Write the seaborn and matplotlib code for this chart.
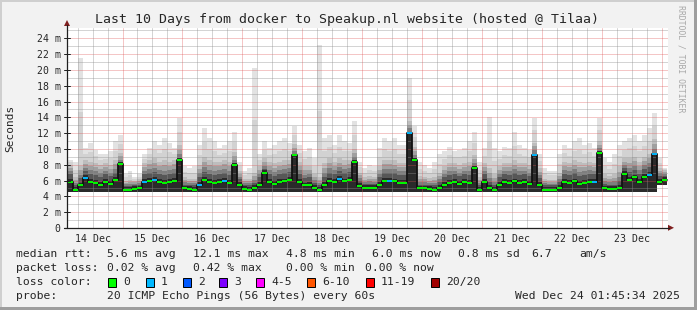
import numpy as np
import pandas as pd
import matplotlib
matplotlib.use("Agg")
import matplotlib.pyplot as plt
import matplotlib.dates as mdates
from matplotlib.lines import Line2D
from matplotlib.patches import Rectangle, Polygon
import seaborn as sns

# ---------------- data (ms), one value per 2-hour bin starting 14 Dec 02:00 ----------------
median_ms = [
    5.8, 4.85, 5.4, 6.3, 5.8, 5.7, 5.5, 5.8, 5.6, 6.1,
    8.1, 4.8, 4.8, 4.9, 5.0, 5.8, 6.0, 6.1, 5.8, 5.7,
    5.8, 6.0, 8.6, 5.0, 4.9, 4.85, 5.5, 6.1, 5.8, 5.7,
    5.8, 6.0, 5.7, 8.0, 5.5, 4.9, 4.85, 5.1, 5.5, 7.0,
    5.8, 5.6, 5.8, 5.9, 6.1, 9.2, 5.8, 5.4, 5.5, 5.1,
    4.85, 5.5, 6.0, 5.8, 6.2, 5.9, 6.1, 8.4, 5.3, 5.1,
    5.1, 5.1, 5.5, 6.0, 6.0, 5.9, 5.7, 5.7, 12.0, 8.6,
    5.0, 5.0, 4.9, 4.85, 5.1, 5.5, 5.7, 5.8, 5.6, 5.8,
    5.7, 7.6, 4.85, 5.8, 5.1, 4.85, 5.5, 5.8, 5.7, 5.9,
    5.7, 5.8, 5.6, 9.2, 5.5, 4.85, 4.85, 4.85, 5.1, 5.8,
    5.7, 5.9, 5.6, 5.7, 5.8, 5.8, 9.5, 5.0, 4.95, 4.95,
    5.1, 6.8, 6.1, 6.4, 5.8, 6.5, 6.75, 9.3, 5.8, 6.1,
]
smoke_lo = [
    4.5, 4.6, 4.55, 4.5, 4.5, 4.5, 4.5, 4.5, 4.5, 4.5,
    4.55, 4.6, 4.6, 4.6, 4.6, 4.5, 4.5, 4.5, 4.5, 4.5,
    4.5, 4.5, 4.55, 4.6, 4.6, 4.6, 4.55, 4.5, 4.5, 4.5,
    4.5, 4.5, 4.5, 4.55, 4.55, 4.6, 4.6, 4.6, 4.55, 4.5,
    4.5, 4.5, 4.5, 4.5, 4.5, 4.55, 4.5, 4.5, 4.55, 4.6,
    4.6, 4.55, 4.5, 4.5, 4.5, 4.5, 4.5, 4.55, 4.6, 4.6,
    4.6, 4.6, 4.55, 4.5, 4.5, 4.5, 4.5, 4.5, 4.55, 4.55,
    4.6, 4.6, 4.6, 4.6, 4.6, 4.55, 4.5, 4.5, 4.5, 4.5,
    4.5, 4.55, 4.6, 4.5, 4.6, 4.6, 4.55, 4.5, 4.5, 4.5,
    4.5, 4.5, 4.5, 4.55, 4.55, 4.6, 4.6, 4.6, 4.6, 4.5,
    4.5, 4.5, 4.5, 4.5, 4.5, 4.5, 4.55, 4.6, 4.6, 4.6,
    4.6, 4.5, 4.5, 4.5, 4.5, 4.5, 4.5, 4.55, 5.5, 5.5,
]
smoke_dark = [
    6.8, 5.4, 6.3, 7.2, 6.8, 6.7, 6.5, 6.8, 6.6, 7.0,
    8.3, 5.3, 5.3, 5.4, 5.5, 6.8, 7.0, 7.1, 6.8, 6.7,
    6.8, 7.0, 8.8, 5.5, 5.4, 5.4, 6.5, 7.1, 6.8, 6.7,
    6.8, 7.0, 6.7, 8.2, 6.2, 5.4, 5.4, 5.7, 6.5, 7.5,
    6.8, 6.6, 6.8, 6.9, 7.1, 9.4, 6.8, 6.3, 6.4, 5.7,
    5.4, 6.5, 7.0, 6.8, 7.2, 6.9, 7.1, 8.6, 6.0, 5.6,
    5.6, 5.6, 6.4, 7.0, 7.0, 6.9, 6.7, 6.7, 12.2, 8.8,
    5.5, 5.5, 5.4, 5.4, 5.8, 6.4, 6.7, 6.8, 6.6, 6.8,
    6.7, 7.8, 5.4, 6.8, 5.8, 5.4, 6.4, 6.8, 6.7, 6.9,
    6.7, 6.8, 6.6, 9.4, 6.3, 5.4, 5.4, 5.4, 5.8, 6.8,
    6.7, 6.9, 6.6, 6.7, 6.8, 6.8, 9.7, 5.6, 5.5, 5.5,
    5.9, 7.6, 7.1, 7.4, 6.8, 7.5, 7.7, 9.5, 6.6, 6.6,
]
smoke_mid = [
    8.0, 6.4, 7.8, 8.6, 8.4, 8.2, 8.0, 8.2, 8.0, 8.6,
    9.5, 6.0, 6.1, 6.0, 6.2, 8.2, 8.6, 8.8, 8.4, 8.6,
    8.4, 8.6, 10.5, 6.4, 6.2, 6.2, 8.0, 9.0, 8.6, 8.4,
    8.4, 8.6, 8.4, 9.6, 7.2, 6.2, 6.2, 7.0, 7.8, 8.8,
    8.4, 8.2, 8.4, 8.6, 8.6, 10.6, 8.4, 7.8, 7.8, 6.8,
    6.5, 8.2, 8.8, 8.4, 8.8, 8.6, 8.6, 10.0, 7.0, 6.4,
    6.6, 6.5, 7.8, 8.6, 8.6, 8.6, 8.2, 8.2, 13.5, 10.2,
    6.6, 6.5, 6.3, 6.5, 7.0, 7.8, 8.2, 8.2, 8.0, 8.2,
    8.4, 9.2, 6.4, 8.2, 7.6, 6.8, 7.8, 8.2, 8.2, 8.6,
    8.2, 8.2, 8.0, 10.8, 7.6, 6.2, 6.1, 6.1, 7.0, 8.4,
    8.2, 8.6, 8.4, 8.2, 8.4, 8.2, 11.0, 6.8, 6.6, 6.8,
    7.8, 8.8, 8.8, 9.0, 8.4, 9.0, 9.4, 11.2, 7.6, 7.4,
]
smoke_max = [
    8.6, 8.4, 21.5, 10.1, 10.8, 9.9, 9.3, 9.3, 9.7, 11.0,
    11.8, 6.8, 7.2, 6.5, 6.8, 9.3, 10.1, 11.0, 10.5, 11.4,
    10.8, 10.1, 13.9, 7.8, 7.6, 7.8, 10.5, 12.7, 11.4, 11.0,
    10.1, 10.5, 11.0, 12.2, 8.4, 7.2, 7.6, 20.3, 9.3, 11.0,
    10.1, 10.5, 11.0, 11.4, 10.8, 12.9, 10.5, 9.7, 10.1, 8.9,
    23.2, 11.4, 11.8, 10.5, 11.8, 11.0, 10.8, 13.5, 8.4, 7.6,
    8.0, 7.8, 10.1, 11.4, 11.0, 11.4, 10.5, 10.5, 19.0, 12.9,
    8.4, 8.0, 7.6, 8.4, 9.3, 9.7, 10.3, 9.7, 9.9, 10.1,
    11.0, 12.2, 8.4, 10.1, 14.1, 10.1, 9.7, 10.3, 10.1, 12.2,
    10.5, 10.1, 9.9, 13.9, 9.3, 7.6, 7.2, 7.2, 9.3, 10.5,
    10.1, 11.0, 11.4, 10.5, 10.8, 10.1, 13.9, 8.9, 8.4, 9.3,
    10.5, 11.0, 11.4, 11.8, 11.0, 11.8, 12.7, 14.6, 8.9, 7.6,
]
loss_one_bins = [3, 15, 17, 26, 31, 54, 64, 68, 93, 105, 116, 117]

day_labels = ["14 Dec", "15 Dec", "16 Dec", "17 Dec", "18 Dec",
              "19 Dec", "20 Dec", "21 Dec", "22 Dec", "23 Dec"]
y_tick_values = [0, 2, 4, 6, 8, 10, 12, 14, 16, 18, 20, 22, 24]
title_text = "Last 10 Days from docker to Speakup.nl website (hosted @ Tilaa)"
row_median = [(16, "median rtt:"), (107.3, "5.6 ms avg"), (193.3, "12.1 ms max"),
              (286, "4.8 ms min"), (372.3, "6.0 ms now"), (458.3, "0.8 ms sd"),
              (531.7, "6.7"), (579.3, "am/s")]
row_loss = [(16, "packet loss:"), (107.3, "0.02 % avg"), (193.3, "0.42 % max"),
            (286, "0.00 % min"), (365, "0.00 % now")]
loss_labels = ["0", "1", "2", "3", "4-5", "6-10", "11-19", "20/20"]
loss_colors = ["#00ff00", "#00b8ff", "#0059ff", "#7e00ff",
               "#ff00ff", "#ff5500", "#ff0000", "#a10000"]
loss_box_x = [108.3, 145.7, 182.7, 219.3, 256, 307.3, 365.7, 430.7]
probe_text = "20 ICMP Echo Pings (56 Bytes) every 60s"
stamp_text = "Wed Dec 24 01:45:34 2025"

# ---------------- figure ----------------
sns.set_style("white")
plt.rcParams["font.family"] = ["DejaVu Sans Mono", "DejaVu Sans"]

W, H = 697, 310
fig = plt.figure(figsize=(W / 100, H / 100), dpi=100, facecolor="#f2f2f2")

def fx(px):
    return px / W

def fy(py):
    return 1 - py / H

# 3D frame
fig.add_artist(Rectangle((0, fy(2)), 1, 2 / H, transform=fig.transFigure, color="#cfcfcf", lw=0))
fig.add_artist(Rectangle((0, 0), 2 / W, 1, transform=fig.transFigure, color="#cfcfcf", lw=0))
fig.add_artist(Rectangle((0, 0), 1, 3 / H, transform=fig.transFigure, color="#9e9e9e", lw=0))
fig.add_artist(Rectangle((fx(W - 3), 0), 3 / W, 1, transform=fig.transFigure, color="#9e9e9e", lw=0))

ax_l, ax_r, ax_t, ax_b = 67, 668, 28, 228
ax = fig.add_axes([fx(ax_l), fy(ax_b), (ax_r - ax_l) / W, (ax_b - ax_t) / H])
ax.set_facecolor("white")
for s in ax.spines.values():
    s.set_visible(False)

bin_start = pd.date_range("2025-12-14 02:00", periods=len(median_ms), freq="2h")
edges = bin_start.append(pd.DatetimeIndex([bin_start[-1] + pd.Timedelta(hours=2)]))
xe = mdates.date2num(edges)

def stepy(v):
    v = np.asarray(v, dtype=float)
    return np.append(v, v[-1])

lo = stepy(smoke_lo)
med = stepy(median_ms)
dk = stepy(smoke_dark)
md = stepy(smoke_mid)
mx = stepy(smoke_max)

# smoke: light outer pings -> dark inner pings (shaded bands between the read levels)
outer = [(0.0, "#e2e2e2"), (0.5, "#d2d2d2")]
for f, c in outer:
    ax.fill_between(xe, lo, mx - (mx - md) * f, step="post", color=c, lw=0, zorder=1)
inner = [(0.0, "#bdbdbd"), (0.35, "#a0a0a0"), (0.7, "#7e7e7e")]
for f, c in inner:
    ax.fill_between(xe, lo, md - (md - dk) * f, step="post", color=c, lw=0, zorder=2)
ax.fill_between(xe, lo, dk, step="post", color="#575757", lw=0, zorder=3)
ax.fill_between(xe, lo, np.minimum(med + 0.35, dk), step="post", color="#2a2a2a", lw=0, zorder=3)

t0 = pd.Timestamp("2025-12-14 01:45:34")
t1 = pd.Timestamp("2025-12-24 01:45:34") + pd.Timedelta(hours=0.8)
ax.set_xlim(mdates.date2num(t0), mdates.date2num(t1))
ax.set_ylim(0, 25.3)

# grid: fine dotted rrdtool grid, rendered as its average tone
minor_c = (0.56, 0.56, 0.56, 0.38)
major_c = (0.87, 0.31, 0.31, 0.32)
for v in np.arange(1, 26, 1):
    ax.axhline(v, color=major_c if v % 2 == 0 else minor_c, lw=0.72, zorder=4)
for t in pd.date_range("2025-12-14 06:00", "2025-12-24 00:00", freq="6h"):
    ax.axvline(mdates.date2num(t), color=major_c if t.hour == 0 else minor_c,
               lw=0.72, zorder=4)

# median line: dark steps, coloured by loss on top
df = pd.DataFrame({"time": edges, "median": med})
sns.lineplot(data=df, x="time", y="median", drawstyle="steps-post",
             color="#111111", lw=1.3, ax=ax, zorder=5)
seg_colors = [loss_colors[1] if i in loss_one_bins else loss_colors[0]
              for i in range(len(median_ms))]
ax.hlines(median_ms, xe[:-1], xe[1:], colors=seg_colors, lw=1.4, zorder=6)

ax.set_xlabel("")
ax.set_ylabel("")
noon = pd.date_range("2025-12-14 12:00", periods=len(day_labels), freq="24h")
ax.set_xticks(mdates.date2num(noon))
ax.set_xticklabels(day_labels)
ax.set_yticks(y_tick_values)
ax.set_yticklabels([("%d m" % v) if v else "0" for v in y_tick_values])
ax.tick_params(axis="x", length=0, pad=4, labelsize=7.1)
ax.tick_params(axis="y", length=0, pad=4.6, labelsize=7.1)
ax.grid(False)

# axes lines and arrows
axis_c = "#1f1f1f"
arrow_c = "#801f1f"
fig.add_artist(Line2D([fx(67), fx(67)], [fy(228), fy(25)], transform=fig.transFigure, color=axis_c, lw=0.9))
fig.add_artist(Line2D([fx(64), fx(669)], [fy(227.8), fy(227.8)], transform=fig.transFigure, color=axis_c, lw=0.9))
fig.add_artist(Polygon([(fx(64), fy(26)), (fx(70), fy(26)), (fx(67), fy(20))], closed=True,
                       transform=fig.transFigure, color=arrow_c, lw=0))
fig.add_artist(Polygon([(fx(668), fy(224.8)), (fx(668), fy(230.8)), (fx(674), fy(227.8))], closed=True,
                       transform=fig.transFigure, color=arrow_c, lw=0))
for v in y_tick_values:
    yy = 228 - v * 200 / 25.3
    fig.add_artist(Line2D([fx(64), fx(70)], [fy(yy), fy(yy)], transform=fig.transFigure, color=axis_c, lw=0.7))

# texts
fig.text(fx(347.2), fy(19.3), title_text, ha="center", va="center", fontsize=9.5)
fig.text(fx(10), fy(128), "Seconds", rotation=90, ha="center", va="center", fontsize=8)
fig.text(fx(681), fy(59), "RRDTOOL / TOBI OETIKER", rotation=270, ha="center", va="center",
         fontsize=5.9, color="#a8a8a8")

fs = 8.2
for x, s in row_median:
    fig.text(fx(x), fy(254.3), s, ha="left", va="center", fontsize=fs)
for x, s in row_loss:
    fig.text(fx(x), fy(268.3), s, ha="left", va="center", fontsize=fs)
fig.text(fx(16), fy(282.3), "loss color:", ha="left", va="center", fontsize=fs)
for bx, lab, c in zip(loss_box_x, loss_labels, loss_colors):
    fig.add_artist(Rectangle((fx(bx), fy(286.5)), 8 / W, 8.5 / H, transform=fig.transFigure,
                             facecolor=c, edgecolor="black", lw=0.7))
    fig.text(fx(bx + 15), fy(282.3), lab, ha="left", va="center", fontsize=fs)
fig.text(fx(16), fy(295.7), "probe:", ha="left", va="center", fontsize=fs)
fig.text(fx(107.3), fy(295.7), probe_text, ha="left", va="center", fontsize=fs)
fig.text(fx(680), fy(295.7), stamp_text, ha="right", va="center", fontsize=fs)

fig.savefig("out.png", dpi=100, facecolor=fig.get_facecolor())
